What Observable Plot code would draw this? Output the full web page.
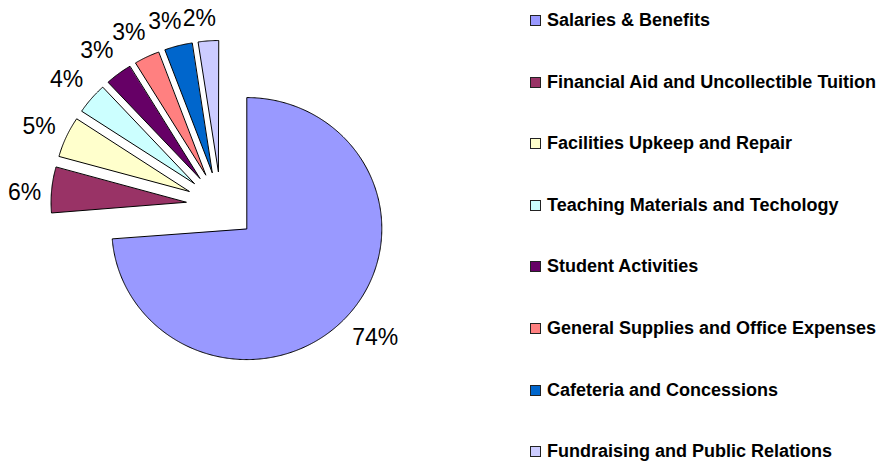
<!DOCTYPE html>
<html><head><meta charset="utf-8">
<script src="https://cdn.jsdelivr.net/npm/d3@7"></script>
<script src="https://cdn.jsdelivr.net/npm/@observablehq/plot@0.6"></script>
<style>
body{margin:0;background:#fff;}
#wrap{position:relative;width:882px;height:464px;overflow:hidden;font-family:"Liberation Sans",Arial,sans-serif;}
#chart{position:absolute;left:0;top:0;}
#legend{position:absolute;left:530px;top:0;}
.item{position:absolute;left:0;white-space:nowrap;display:flex;align-items:center;font-weight:bold;font-size:18px;color:#000;height:20px;}
.sw{width:9px;height:9px;border:1px solid #222;margin-right:6px;flex:none;}
</style></head><body>
<div id="wrap"><div id="chart"></div><div id="legend"></div></div>
<script>
const categories = [
  "Salaries & Benefits",
  "Financial Aid and Uncollectible Tuition",
  "Facilities Upkeep and Repair",
  "Teaching Materials and Techology",
  "Student Activities",
  "General Supplies and Office Expenses",
  "Cafeteria and Concessions",
  "Fundraising and Public Relations"
];
const values = [73.7, 5.6, 5.0, 3.8, 3.2, 3.0, 3.3, 2.4];
const colors = ["#9999FF","#993366","#FFFFCC","#CCFFFF","#660066","#FF8080","#0066CC","#CCCCFF"];

// layout
const W = 520, H = 464, cx = 220.5, cy = 205, kx = 135, ky = 131;
const explode = 0.26, labelR = 1.335, labelRot = -2 * Math.PI / 180, fontSize = 23;

const total = d3.sum(values);
let acc = 0;
const slices = categories.map((name, i) => {
  const a0 = acc / total * 2 * Math.PI; acc += values[i];
  const a1 = acc / total * 2 * Math.PI;
  return {name, value: values[i], a0, a1, mid: (a0 + a1) / 2};
});
const pts = [];
for (const s of slices) {
  const ox = explode * Math.sin(s.mid), oy = explode * Math.cos(s.mid);
  pts.push({name: s.name, x: ox, y: oy});
  const n = Math.max(2, Math.ceil((s.a1 - s.a0) / (Math.PI / 360)));
  for (let k = 0; k <= n; k++) {
    const a = s.a0 + (s.a1 - s.a0) * k / n;
    pts.push({name: s.name, x: ox + Math.sin(a), y: oy + Math.cos(a)});
  }
}
const labelData = slices.map(s => {
  const text = Math.round(s.value / total * 100) + "%";
  const w = ((text.length - 1) * 0.556 + 0.889) * fontSize;
  const h = 20;
  const a = s.mid + labelRot;
  const dx = Math.sin(a), dy = Math.cos(a);
  const extra = Math.sign(dy) * 12 * Math.abs(Math.sin(2 * a));
  return {
    text,
    x: dx * labelR + dx * (w / 2) / kx,
    y: dy * labelR + (dy * (h / 2) + extra) / ky
  };
});

const chart = Plot.plot({
  width: W, height: H, margin: 0,
  x: {domain: [-cx / kx, (W - cx) / kx], axis: null},
  y: {domain: [-(H - cy) / ky, cy / ky], axis: null},
  color: {domain: categories, range: colors},
  style: {background: "white"},
  marks: [
    Plot.line(pts, {x: "x", y: "y", z: "name", fill: "name", stroke: "black", strokeWidth: 1, curve: "linear-closed"}),
    Plot.text(labelData, {x: "x", y: "y", text: "text", fontSize, fill: "black",
      fontFamily: '"Liberation Sans", Arial, sans-serif', textAnchor: "middle", lineAnchor: "middle"})
  ]
});
document.getElementById("chart").appendChild(chart);

const legend = document.getElementById("legend");
categories.forEach((c, i) => {
  const it = document.createElement("div");
  it.className = "item";
  it.style.top = (20.5 + i * 61.6 - 10) + "px";
  const sw = document.createElement("span");
  sw.className = "sw"; sw.style.background = colors[i];
  const t = document.createElement("span");
  t.textContent = c;
  it.appendChild(sw); it.appendChild(t);
  legend.appendChild(it);
});
</script>
</body></html>
